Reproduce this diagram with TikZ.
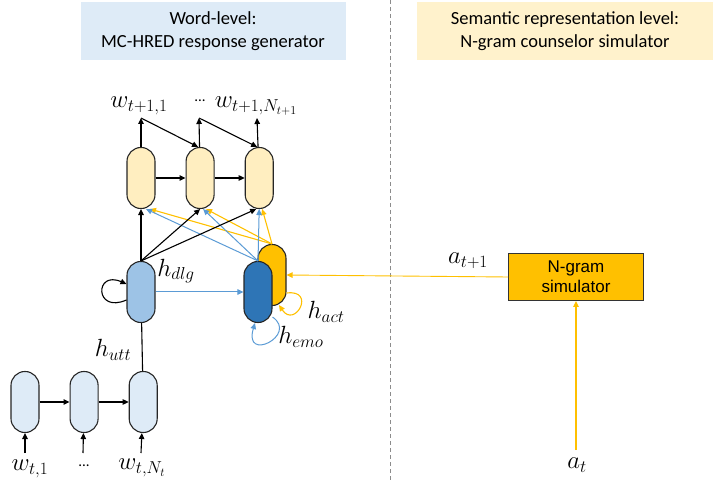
\documentclass[tikz,border=0pt]{standalone}
\usepackage{fontspec}
\setmainfont{Carlito}
\newfontfamily\boxfont{Liberation Sans}
\DeclareMathSizes{23}{23}{17}{13}
\usepackage{tikz}
\usetikzlibrary{positioning, arrows.meta, calc}

\begin{document}
\begin{tikzpicture}[x=1pt, y=-1pt, node distance=30pt, >={Triangle[length=6pt,width=5.5pt]}]
    % Styles for cells and edges
    \tikzset{
        cell/.style={draw=black!85, line width=1.1pt, rounded corners=13.9pt, minimum width=28pt, minimum height=61pt, inner sep=0pt},
        title/.style={align=center, minimum height=58pt, inner sep=0pt, font=\fontsize{18.5}{22.5}\selectfont},
        lbl/.style={inner sep=0pt, font=\fontsize{23}{25}\selectfont},
        dots/.style={inner sep=0pt, font=\fontsize{15}{15}\selectfont},
        arr/.style={->, line width=1.1pt, black},
        barr/.style={->, line width=1pt, lineblue},
        yarr/.style={->, line width=1.1pt, lineyellow},
    }
    % Colours
    \definecolor{titleblue}{RGB}{222,235,247}
    \definecolor{titleyellow}{RGB}{255,242,204}
    \definecolor{decfill}{RGB}{255,238,192}
    \definecolor{encfill}{RGB}{222,235,247}
    \definecolor{dlgfill}{RGB}{157,195,230}
    \definecolor{emofill}{RGB}{46,117,182}
    \definecolor{actfill}{RGB}{255,192,0}
    \definecolor{lineblue}{RGB}{91,155,213}
    \definecolor{lineyellow}{RGB}{255,192,0}

    \useasboundingbox (0,0) rectangle (718,481);

    % Headers
    \node[title, fill=titleblue, minimum width=265pt] (wordtitle) at (213,31) {Word-level:\\MC-HRED response generator};
    \node[title, fill=titleyellow, minimum width=296pt] (semtitle) at (565,31) {Semantic representation level:\\N-gram counselor simulator};

    % Divider
    \coordinate (divtop) at (390,0);
    \coordinate (divbot) at (390,481);
    \draw[black!45, line width=0.8pt, dash pattern=on 4pt off 3pt] (divtop) -- (divbot);

    % Decoder cells
    \node[cell, fill=decfill] (dec1) at (141,178) {};
    \node[cell, fill=decfill, right=of dec1] (dec2) {};
    \node[cell, fill=decfill, right=of dec2] (dec3) {};

    % Utterance encoder cells
    \node[cell, fill=encfill] (enc1) at (25,402) {};
    \node[cell, fill=encfill, right=of enc1] (enc2) {};
    \node[cell, fill=encfill, right=of enc2] (enc3) {};

    % Context cells
    \node[cell, fill=dlgfill] (dlg) at (141,292) {};
    \node[cell, fill=actfill] (act) at (272,275) {};
    \node[cell, fill=emofill] (emo) at (258,292) {};

    % Simulator
    \node[draw=black!80, line width=1pt, fill=actfill, minimum width=135pt, minimum height=47pt, align=center,
          font=\boxfont\fontsize{17}{20}\selectfont] (ngram) at (576,277) {N-gram\\simulator};

    % Outputs
    \coordinate (o1) at (141,118);
    \coordinate (o2) at (199,118);
    \coordinate (o3) at (257,118);
    \node[lbl] (w1) at (139,106) {$w_{t+1,1}$};
    \node[dots] (wdots) at (200,101) {...};
    \node[lbl] (wN) at (256,106) {$w_{t+1,N_{t+1}}$};

    % Inputs
    \coordinate (i1) at (25,453);
    \coordinate (i2) at (83,453);
    \coordinate (i3) at (141,453);
    \node[lbl] (x1) at (30,469) {$w_{t,1}$};
    \node[dots] (xdots) at (84,466) {...};
    \node[lbl] (xN) at (142,468) {$w_{t,N_t}$};
    \coordinate (ain) at (576,450);
    \node[lbl] (at) at (577,465) {$a_t$};

    % Hidden state labels
    \node[lbl] (hutt) at (113,350) {$h_{utt}$};
    \node[lbl] (hdlg) at (176,271) {$h_{dlg}$};
    \node[lbl] (hact) at (326,312) {$h_{act}$};
    \node[lbl] (hemo) at (301,337) {$h_{emo}$};
    \node[lbl] (anext) at (468,261) {$a_{t+1}$};

    % Encoder arrows
    \draw[arr] (i1) -- (enc1);
    \draw[arr] (i2) -- (enc2);
    \draw[arr] (i3) -- (enc3);
    \draw[arr] (enc1) -- (enc2);
    \draw[arr] (enc2) -- (enc3);
    \draw[line width=1.1pt] (enc3) -- (dlg);

    % Decoder arrows
    \draw[arr] (dec1) -- (dec2);
    \draw[arr] (dec2) -- (dec3);
    \draw[arr] (dec1) -- (o1);
    \draw[arr] (dec2) -- (o2);
    \draw[arr] (dec3) -- (o3);
    \draw[arr] (o1) -- ([xshift=-2pt]dec2.north);
    \draw[arr] (o2) -- ([xshift=-2pt]dec3.north);

    % Context to decoder
    \draw[yarr] (act.north) -- ([xshift=9pt]dec1.south);
    \draw[yarr] (act.north) -- ([xshift=6pt]dec2.south);
    \draw[yarr] (act.north) -- ([xshift=3pt]dec3.south);
    \draw[barr] (emo.north) -- ([xshift=5pt]dec1.south);
    \draw[barr] (emo.north) -- ([xshift=3pt]dec2.south);
    \draw[barr] (emo.north) -- (dec3.south);
    \draw[arr] (dlg.north) -- (dec1.south);
    \draw[arr] (dlg.north) -- (dec2.south);
    \draw[arr] (dlg.north) -- ([xshift=-3pt]dec3.south);

    % Context links
    \draw[barr] (dlg) -- (emo);
    \draw[yarr, line width=0.9pt] (ngram.west) -- (act.east);
    \draw[yarr] (ain) -- (ngram);

    % Recurrent loops
    \draw[arr] ($(dlg.west)+(0,8)$) .. controls +(-32,14) and +(-32,-14) .. ($(dlg.west)+(0,-8)$);
    \draw[yarr] ($(act.south east)+(0,-13)$) .. controls +(30,-4) and +(16,24) .. ($(act.south)+(7,-1)$);
    \draw[barr] ($(emo.south east)+(0,-6)$) .. controls +(26,18) and +(-12,40) .. ($(emo.south)+(-3,0)$);
\end{tikzpicture}
\end{document}
